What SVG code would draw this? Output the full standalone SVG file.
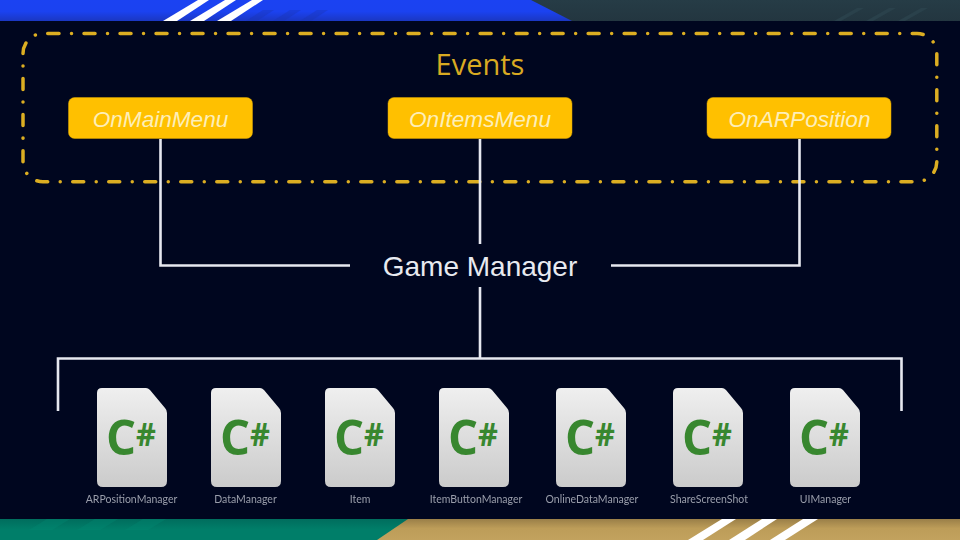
<svg xmlns="http://www.w3.org/2000/svg" width="960" height="540" viewBox="0 0 960 540">
<style>
.ev{fill:#ffc000;stroke:#d9a400;stroke-width:.5}
.evt{font:italic 22.6px "Liberation Sans",Arial,sans-serif;fill:#fdeeb8;text-anchor:middle}
.wire{fill:none;stroke:#e6e8f0;stroke-width:2.6}
.c{font:700 49px "Open Sans",sans-serif;fill:#38872f}
.c tspan{font-size:32px}
.lbl{font:10.5px Lato,sans-serif;fill:#9a9eab;text-anchor:middle}
.st{fill:#fff}
</style>
<defs>
<linearGradient id="blue" x1="0" y1="0" x2="0" y2="1"><stop offset="0" stop-color="#1b42f2"/><stop offset=".55" stop-color="#1b42f0"/><stop offset="1" stop-color="#1b37c2"/></linearGradient>
<linearGradient id="slate" x1="0" y1="0" x2="0" y2="1"><stop offset="0" stop-color="#263c46"/><stop offset="1" stop-color="#233640"/></linearGradient>
<linearGradient id="green" x1="0" y1="0" x2="0" y2="1"><stop offset="0" stop-color="#006d5d"/><stop offset=".5" stop-color="#007e69"/><stop offset="1" stop-color="#007e69"/></linearGradient>
<linearGradient id="gold" x1="0" y1="0" x2="0" y2="1"><stop offset="0" stop-color="#9a7f48"/><stop offset=".45" stop-color="#bd9d59"/><stop offset="1" stop-color="#c2a25e"/></linearGradient>
<linearGradient id="paper" x1="0" y1="0" x2="0" y2="1"><stop offset="0" stop-color="#efefef"/><stop offset="1" stop-color="#cbcbcb"/></linearGradient>
<path id="file" d="M102 388H146Q148 388 150 390L165 408Q167 410 167 413V481Q167 487 161 487H103Q97 487 97 481V393Q97 388 102 388Z" fill="url(#paper)"/>
<filter id="soft" x="-10%" y="-30%" width="120%" height="160%"><feGaussianBlur stdDeviation=".35"/></filter>
</defs>
<rect width="960" height="540" fill="#00061f"/>
<g id="top-band">
<rect width="960" height="21" fill="url(#slate)"/>
<polygon points="0,0 531,0 572,21 0,21" fill="url(#blue)"/>
<g fill="#1b33b0" fill-opacity=".35"><polygon points="246,21 263,10 274,10 257,21"/><polygon points="273,21 290,10 301,10 284,21"/><polygon points="300,21 317,10 328,10 311,21"/></g>
<g fill="#2a414b"><polygon points="834,21 857,8 864,8 841,21"/><polygon points="866,21 889,8 896,8 873,21"/><polygon points="898,21 921,8 928,8 905,21"/></g>
<polygon class="st" points="163,21 198,0 209,0 177,21"/>
<polygon class="st" points="190,21 225,0 236,0 204,21"/>
<polygon class="st" points="217,21 252,0 263,0 231,21"/>
</g>
<g id="bottom-band">
<rect y="519" width="960" height="21" fill="url(#gold)"/>
<polygon points="0,519 408,519 377,540 0,540" fill="url(#green)"/>
<g fill="#008a73" fill-opacity=".35"><polygon points="47,519 70,519 52,530 29,530"/><polygon points="95,519 118,519 100,530 77,530"/><polygon points="143,519 166,519 148,530 125,530"/></g>
<polygon class="st" points="722,519 736,519 703,540 688,540"/>
<polygon class="st" points="762,519 777,519 745,540 729,540"/>
<polygon class="st" points="803,519 818,519 785,540 770,540"/>
</g>
<path id="events-frame" d="M48 33.500H917A20 20 0 0 1 936.800 53.500V162A20 20 0 0 1 917 181.700H43A20 20 0 0 1 23 162V53.500A20 20 0 0 1 43 33.500Z" fill="none" stroke="#dcae22" stroke-width="3.500" stroke-linecap="round" stroke-dasharray="11 12.500 .01 12.500"/>
<text id="events-title" x="480" y="74.500" font-family="'Open Sans',sans-serif" font-size="29" fill="#d9aa22" text-anchor="middle">Events</text>
<g id="connectors">
<path class="wire" d="M160.500 139V265.500H350"/>
<path class="wire" d="M480 139V244"/>
<path class="wire" d="M799.500 139V265.500H611"/>
<path class="wire" d="M480 287V358"/>
<path class="wire" d="M58 411V358.500H901.500V411"/>
</g>
<g id="OnMainMenu"><rect class="ev" x="68.500" y="97.500" width="184" height="41" rx="6"/><text class="evt" x="160.500" y="126.500">OnMainMenu</text></g>
<g id="OnItemsMenu"><rect class="ev" x="388" y="97.500" width="184" height="41" rx="6"/><text class="evt" x="480" y="126.500">OnItemsMenu</text></g>
<g id="OnARPosition"><rect class="ev" x="707" y="97.500" width="184" height="41" rx="6"/><text class="evt" x="799.500" y="126.500">OnARPosition</text></g>
<g id="GameManager"><text x="480" y="276" font-family="'Liberation Sans',Arial,sans-serif" font-size="28" fill="#e8eaf0" text-anchor="middle">Game Manager</text></g>
<g id="ARPositionManager"><use href="#file"/><text class="c" x="106" y="455" textLength="50" lengthAdjust="spacingAndGlyphs">C<tspan dy="-9">#</tspan></text><text class="lbl" x="131.500" y="503" filter="url(#soft)">ARPositionManager</text></g>
<g id="DataManager"><use href="#file" x="114"/><text class="c" x="220" y="455" textLength="50" lengthAdjust="spacingAndGlyphs">C<tspan dy="-9">#</tspan></text><text class="lbl" x="245.500" y="503" filter="url(#soft)">DataManager</text></g>
<g id="Item"><use href="#file" x="228"/><text class="c" x="334" y="455" textLength="50" lengthAdjust="spacingAndGlyphs">C<tspan dy="-9">#</tspan></text><text class="lbl" x="360" y="503" filter="url(#soft)">Item</text></g>
<g id="ItemButtonManager"><use href="#file" x="342"/><text class="c" x="448" y="455" textLength="50" lengthAdjust="spacingAndGlyphs">C<tspan dy="-9">#</tspan></text><text class="lbl" x="476" y="503" filter="url(#soft)">ItemButtonManager</text></g>
<g id="OnlineDataManager"><use href="#file" x="459"/><text class="c" x="565" y="455" textLength="50" lengthAdjust="spacingAndGlyphs">C<tspan dy="-9">#</tspan></text><text class="lbl" x="592" y="503" filter="url(#soft)">OnlineDataManager</text></g>
<g id="ShareScreenShot"><use href="#file" x="576"/><text class="c" x="682" y="455" textLength="50" lengthAdjust="spacingAndGlyphs">C<tspan dy="-9">#</tspan></text><text class="lbl" x="709" y="503" filter="url(#soft)">ShareScreenShot</text></g>
<g id="UIManager"><use href="#file" x="693"/><text class="c" x="799" y="455" textLength="50" lengthAdjust="spacingAndGlyphs">C<tspan dy="-9">#</tspan></text><text class="lbl" x="825.500" y="503" filter="url(#soft)">UIManager</text></g>
</svg>
